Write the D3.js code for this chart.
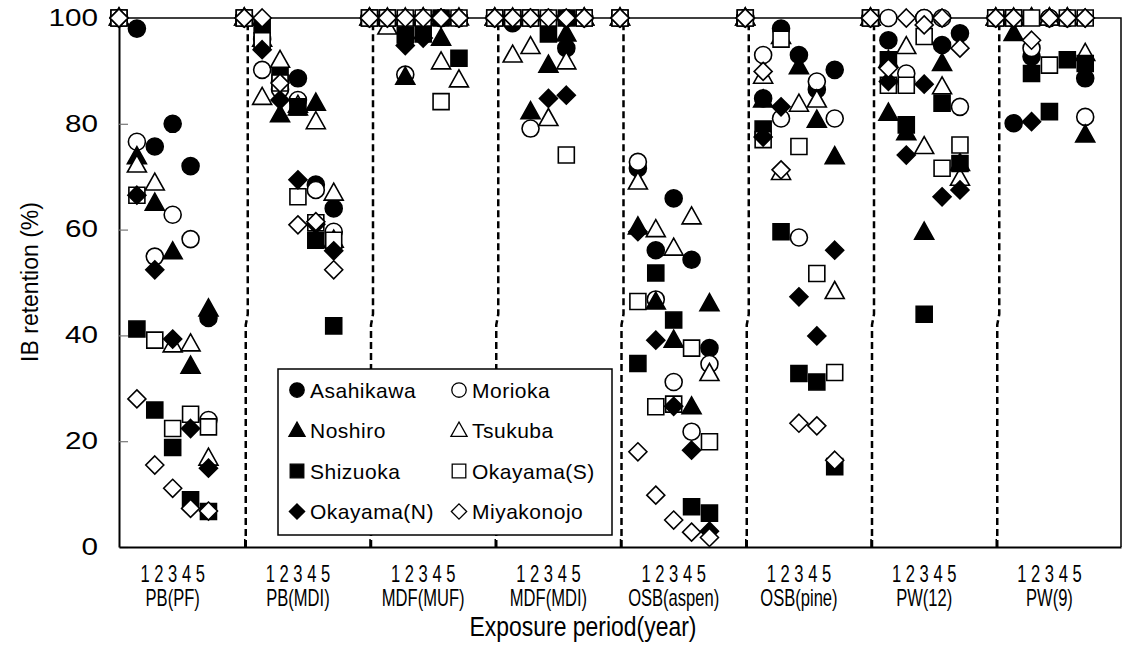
<!DOCTYPE html>
<html>
<head>
<meta charset="utf-8">
<script src="https://cdnjs.cloudflare.com/ajax/libs/d3/7.8.5/d3.min.js"></script>
<style>
  body { margin: 0; background: #fff; }
  svg text { font-family: "Liberation Sans", Arial, sans-serif; fill: #000; }
</style>
</head>
<body>
<div id="chart"></div>
<script>
// categories
const groupNames = ['PB(PF)', 'PB(MDI)', 'MDF(MUF)', 'MDF(MDI)', 'OSB(aspen)', 'OSB(pine)', 'PW(12)', 'PW(9)'];
const years = [0, 1, 2, 3, 4, 5];
const yTicks = [0, 20, 40, 60, 80, 100];
const yearTickText = '1 2 3 4 5';
const seriesNames = ['Asahikawa', 'Morioka', 'Noshiro', 'Tsukuba', 'Shizuoka', 'Okayama(S)', 'Okayama(N)', 'Miyakonojo'];

// IB retention (%) per group, years 0..5
const asahikawa = [
    [100, 98, 75.7, 80, 72, 43.3],
    [100, 96, 88, 88.6, 68.5, 64],
    [100, 100, 100, 100, 100, 100],
    [100, 99, 100, 100, 94.3, 100],
    [100, 71.6, 56.1, 65.9, 54.3, 37.6],
    [100, 84.8, 98, 93, 86.5, 90.2],
    [100, 95.8, 88, 100, 94.9, 97.1],
    [100, 80.1, 92.7, 100, 100, 88.6]
];
const morioka = [
    [100, 76.6, 54.9, 62.8, 58.2, 24],
    [100, 90.2, 86.5, 84.5, 67.5, 59.6],
    [100, 100, 89.3, 100, 100, 100],
    [100, 100, 79.1, 100, 100, 100],
    [100, 72.8, 46.8, 31.2, 21.8, 34.6],
    [100, 93, 81, 58.5, 88, 81],
    [100, 100, 89.5, 100, 100, 83.2],
    [100, 100, 94.3, 100, 100, 81.3]
];
const noshiro = [
    [100, 73.8, 65, 55.8, 34.2, 45],
    [100, 96, 81.7, 83, 83.9, 58],
    [100, 100, 88.8, 100, 96.2, 100],
    [100, 100, 82.3, 91.1, 97, 100],
    [100, 60.5, 46.3, 39.1, 26.5, 46],
    [100, 84.5, 96.5, 90.8, 80.7, 73.8],
    [100, 82, 78.3, 59.5, 91.4, 72.5],
    [100, 97.1, 100, 100, 100, 77.9]
];
const tsukuba = [
    [100, 72.2, 68.8, 38.2, 38.4, 16.8],
    [100, 85, 92, 83.5, 80.4, 66.9],
    [100, 98.3, 100, 100, 91.7, 88.3],
    [100, 93, 94.6, 81, 91.7, 100],
    [100, 69, 60, 56.5, 62.4, 32.8],
    [100, 89, 70.8, 83.7, 84.5, 48.3],
    [100, 92, 94.6, 75.7, 87, 69.7],
    [100, 100, 100, 100, 100, 93.3]
];
const shizuoka = [
    [100, 41.2, 25.9, 18.8, 8.9, 6.7],
    [100, 98.5, 89, 83.2, 58, 41.8],
    [100, 100, 96.8, 97, 100, 92.4],
    [100, 100, 100, 97, 100, 100],
    [100, 34.7, 51.8, 42.9, 7.6, 6.4],
    [100, 79, 59.6, 32.8, 31.2, 15.2],
    [100, 92.1, 79.8, 44, 83.9, 72.5],
    [100, 100, 89.5, 82.3, 92.1, 91.4]
];
const okayamaS = [
    [100, 66.5, 39.1, 22.4, 25.1, 22.7],
    [100, 95.7, 87.7, 66.2, 61.3, 58],
    [100, 100, 100, 100, 84.2, 100],
    [100, 100, 100, 100, 74.1, 100],
    [100, 46.4, 26.5, 27, 37.6, 19.9],
    [100, 77, 96, 75.7, 51.7, 33],
    [100, 87.3, 87.3, 96.5, 71.6, 76],
    [100, 100, 100, 91.1, 100, 100]
];
const okayamaN = [
    [100, 66.5, 52.4, 39.3, 22.4, 14.9],
    [100, 94, 84.5, 69.4, 61, 56],
    [100, 100, 94.8, 96.2, 100, 100],
    [100, 100, 100, 84.8, 85.4, 100],
    [100, 59.6, 39.1, 26.6, 18.3, 3],
    [100, 77.5, 83.2, 47.3, 39.9, 56.1],
    [100, 88, 74.1, 87.5, 66.2, 67.5],
    [100, 100, 80.4, 100, 100, 100]
];
const miyakonojo = [
    [100, 28, 15.5, 11.1, 7.3, 6.8],
    [100, 100, 87.7, 60.9, 61.5, 52.4],
    [100, 100, 100, 100, 100, 100],
    [100, 100, 100, 100, 100, 100],
    [100, 18, 9.8, 5.1, 2.8, 1.8],
    [100, 89.9, 71.3, 23.4, 22.9, 16.4],
    [100, 90.5, 100, 98.7, 100, 94.3],
    [100, 100, 95.8, 100, 100, 100]
];
const seriesValues = [asahikawa, morioka, noshiro, tsukuba, shizuoka, okayamaS, okayamaN, miyakonojo];

// marker look per series
const markerStyle = {
    'Asahikawa': { shape: 'circle', fill: '#000' },
    'Morioka': { shape: 'circle', fill: '#fff' },
    'Noshiro': { shape: 'triangle', fill: '#000' },
    'Tsukuba': { shape: 'triangle', fill: '#fff' },
    'Shizuoka': { shape: 'square', fill: '#000' },
    'Okayama(S)': { shape: 'square', fill: '#fff' },
    'Okayama(N)': { shape: 'diamond', fill: '#000' },
    'Miyakonojo': { shape: 'diamond', fill: '#fff' }
};

const slotsPerGroup = 7;
const width = 1126, height = 647;
const plot = { left: 119, right: 1121, top: 18, bottom: 547 };

const svg = d3.select('#chart').append('svg')
    .attr('width', width)
    .attr('height', height);

const x = d3.scaleLinear()
    .domain([0, groupNames.length * slotsPerGroup])
    .range([plot.left, plot.right]);
const y = d3.scaleLinear()
    .domain([0, 100])
    .range([plot.bottom, plot.top]);

function shapePath(shape, s) {
    if (shape === 'circle') {
        const r = 8.5 * s;
        return `M${-r},0A${r},${r} 0 1,0 ${r},0A${r},${r} 0 1,0 ${-r},0Z`;
    }
    if (shape === 'square') {
        const h = 8 * s;
        return `M${-h},${-h}H${h}V${h}H${-h}Z`;
    }
    if (shape === 'triangle') {
        return `M0,${-10 * s}L${9.5 * s},${7 * s}L${-9.5 * s},${7 * s}Z`;
    }
    const d = 9 * s;
    return `M0,${-d}L${d},0L0,${d}L${-d},0Z`;
}

// frame (top and right edges)
svg.append('path')
    .attr('d', `M${plot.left},${plot.top}H${plot.right}V${plot.bottom}`)
    .attr('fill', 'none')
    .attr('stroke', '#000')
    .attr('stroke-width', 1.5);

// dashed group separators
const sepGroups = d3.range(1, groupNames.length);
svg.selectAll('.sep')
    .data(sepGroups)
    .enter()
    .append('path')
    .attr('class', 'sep')
    .attr('d', g => {
        const x0 = x(g * slotsPerGroup);
        return `M${x0 + 3.5},${y(99)}L${x0 + 3.5},${y(44)}L${x0 + 1.5},${y(42)}L${x0 + 1.5},${y(0)}`;
    })
    .attr('fill', 'none')
    .attr('stroke', '#000')
    .attr('stroke-width', 2.5)
    .attr('stroke-dasharray', '7,4');

// y axis
const yAxis = svg.append('g')
    .attr('transform', `translate(${plot.left},0)`)
    .call(d3.axisLeft(y).tickValues(yTicks).tickSize(-9).tickPadding(21).tickSizeOuter(0));
yAxis.select('.domain').attr('stroke-width', 2);
yAxis.selectAll('.tick line').attr('stroke', '#777').attr('stroke-width', 1.2);
yAxis.selectAll('.tick text')
    .style('font-size', '23px')
    .style('font-family', '"Liberation Sans", Arial, sans-serif')
    .attr('textLength', d => String(d).length * 16.5)
    .attr('lengthAdjust', 'spacingAndGlyphs');

// x axis (ticks at group boundaries)
const xAxis = svg.append('g')
    .attr('transform', `translate(0,${plot.bottom})`)
    .call(d3.axisBottom(x)
        .tickValues(sepGroups.map(g => g * slotsPerGroup))
        .tickSize(-8)
        .tickSizeOuter(0)
        .tickFormat(''));
xAxis.select('.domain').attr('stroke-width', 2);
xAxis.selectAll('.tick line').attr('stroke', '#000').attr('stroke-width', 1.5);

// year labels and group names (narrow lettering)
svg.selectAll('.year-label')
    .data(groupNames)
    .enter()
    .append('text')
    .attr('class', 'year-label')
    .attr('transform', (_, g) => `translate(${x(g * slotsPerGroup + 3)},582) scale(0.72,1)`)
    .attr('text-anchor', 'middle')
    .style('font-size', '23px')
    .text(yearTickText);

svg.selectAll('.group-label')
    .data(groupNames)
    .enter()
    .append('text')
    .attr('class', 'group-label')
    .attr('transform', (_, g) => `translate(${x(g * slotsPerGroup + 3)},606) scale(0.72,1)`)
    .attr('text-anchor', 'middle')
    .style('font-size', '23px')
    .text(d => d);

svg.append('text')
    .attr('transform', 'translate(583,636) scale(0.85,1)')
    .attr('text-anchor', 'middle')
    .style('font-size', '27px')
    .text('Exposure period(year)');

svg.append('text')
    .attr('transform', 'translate(38,282) rotate(-90)')
    .attr('text-anchor', 'middle')
    .style('font-size', '23px')
    .text('IB retention (%)');

// markers
const points = [];
seriesNames.forEach((name, i) => {
    seriesValues[i].forEach((vals, g) => {
        vals.forEach((v, k) => {
            points.push({ name, slot: g * slotsPerGroup + years[k], value: v });
        });
    });
});

svg.append('g')
    .selectAll('path')
    .data(points)
    .enter()
    .append('path')
    .attr('transform', d => `translate(${x(d.slot)},${y(d.value)})`)
    .attr('d', d => shapePath(markerStyle[d.name].shape, 1))
    .attr('fill', d => markerStyle[d.name].fill)
    .attr('stroke', '#000')
    .attr('stroke-width', 1.6);

// legend
const legend = svg.append('g');
legend.append('rect')
    .attr('x', 278)
    .attr('y', 369)
    .attr('width', 334)
    .attr('height', 166)
    .attr('fill', '#fff')
    .attr('stroke', '#000')
    .attr('stroke-width', 1.5);

const legendItems = legend.selectAll('.legend-item')
    .data(seriesNames)
    .enter()
    .append('g')
    .attr('class', 'legend-item')
    .attr('transform', (_, i) => `translate(${297 + (i % 2) * 162},${390 + Math.floor(i / 2) * 40.5})`);

legendItems.append('path')
    .attr('d', d => shapePath(markerStyle[d].shape, 0.85))
    .attr('fill', d => markerStyle[d].fill)
    .attr('stroke', '#000')
    .attr('stroke-width', 1.3);

legendItems.append('text')
    .attr('x', 13)
    .attr('y', 7.5)
    .style('font-size', '21px')
    .style('letter-spacing', '0.5px')
    .text(d => d);
</script>
</body>
</html>
